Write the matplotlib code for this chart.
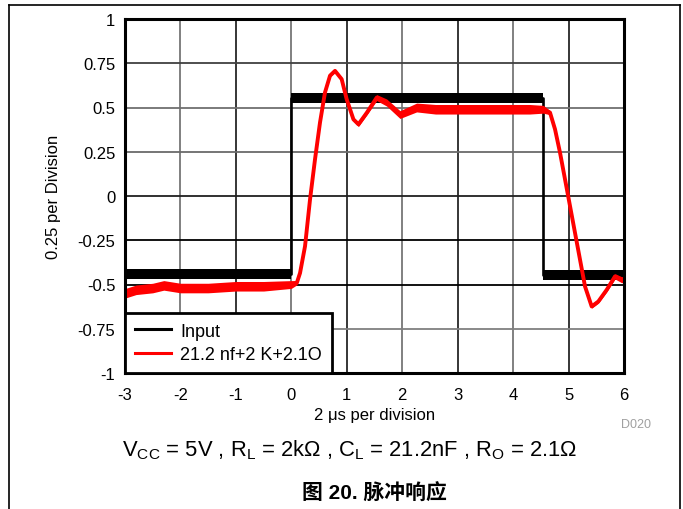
import matplotlib
matplotlib.use("Agg")
import matplotlib.pyplot as plt
from matplotlib.lines import Line2D

plt.rcParams["font.family"] = ["Liberation Sans", "DejaVu Sans"]
plt.rcParams["mathtext.fontset"] = "custom"
plt.rcParams["mathtext.rm"] = "Liberation Sans"
plt.rcParams["mathtext.it"] = "Liberation Sans:italic"
plt.rcParams["axes.unicode_minus"] = False

# Input pulse (time in divisions, amplitude), with noise envelope half-width
input_t = [-3.0, 0.0, 0.0, 4.545, 4.545, 6.0]
input_v = [-0.44, -0.44, 0.555, 0.555, -0.445, -0.445]
input_noise = [0.027, 0.027, 0.027, 0.027, 0.027, 0.027]

# Output with 21.2 nF load, 2 k load and 2.1 ohm isolation
output_t = [-3.0, -2.8, -2.5, -2.3, -2.0, -1.5, -1.0, -0.5, 0.0, 0.1,
            0.157, 0.247, 0.337, 0.427, 0.517, 0.607, 0.698, 0.788, 0.908, 0.998,
            1.12, 1.21, 1.36, 1.54, 1.72, 1.96, 2.26, 2.6, 3.0, 3.5,
            4.0, 4.3, 4.545, 4.666, 4.756, 4.846, 4.937, 5.027, 5.117, 5.207,
            5.297, 5.417, 5.537, 5.688, 5.838, 5.958, 6.0]
output_v = [-0.55, -0.53, -0.52, -0.505, -0.52, -0.52, -0.51, -0.51, -0.50, -0.49,
            -0.435, -0.284, -0.02, 0.207, 0.415, 0.585, 0.68, 0.707, 0.66, 0.547,
            0.433, 0.405, 0.47, 0.556, 0.528, 0.46, 0.50, 0.49, 0.49, 0.49,
            0.49, 0.49, 0.49, 0.471, 0.377, 0.245, 0.093, -0.058, -0.209, -0.36,
            -0.511, -0.624, -0.596, -0.53, -0.454, -0.473, -0.47]
output_noise = [0.027, 0.027, 0.027, 0.027, 0.027, 0.027, 0.027, 0.027, 0.022, 0.012,
                0.006, 0.003, 0.003, 0.003, 0.003, 0.005, 0.008, 0.01, 0.01, 0.008,
                0.01, 0.013, 0.013, 0.017, 0.02, 0.022, 0.025, 0.027, 0.027, 0.027,
                0.027, 0.027, 0.022, 0.012, 0.006, 0.004, 0.004, 0.004, 0.004, 0.004,
                0.006, 0.01, 0.01, 0.012, 0.015, 0.017, 0.017]

series_names = ["Input", "21.2 nf+2 K+2.1O"]
x_ticks = [-3, -2, -1, 0, 1, 2, 3, 4, 5, 6]
x_tick_labels = ["-3", "-2", "-1", "0", "1", "2", "3", "4", "5", "6"]
y_ticks = [-1, -0.75, -0.5, -0.25, 0, 0.25, 0.5, 0.75, 1]
y_tick_labels = ["-1", "-0.75", "-0.5", "-0.25", "0", "0.25", "0.5", "0.75", "1"]

fig = plt.figure(figsize=(6.83, 5.10), dpi=100)
ax = fig.add_axes([125 / 683, 1 - 374 / 510, 499 / 683, 354 / 510])

# grid: alternating grey / black verticals, mostly dark horizontals
for t in x_ticks[1:-1]:
    if t % 2 == 0:
        ax.axvline(t, color="#808080", lw=1.4, zorder=0)
    else:
        ax.axvline(t, color="black", lw=1.1, zorder=0)
h_colors = {-0.75: "#808080", -0.5: "black", -0.25: "black", 0: "#202020",
            0.25: "#6a6a6a", 0.5: "#707070", 0.75: "#404040"}
for v, c in h_colors.items():
    ax.axhline(v, color=c, lw=1.3, zorder=0)

lo = [v - n for v, n in zip(input_v, input_noise)]
hi = [v + n for v, n in zip(input_v, input_noise)]
ax.fill_between(input_t, lo, hi, color="black", lw=0, zorder=2)
ax.plot(input_t, input_v, color="black", lw=1.9, zorder=2)

lo = [v - n for v, n in zip(output_v, output_noise)]
hi = [v + n for v, n in zip(output_v, output_noise)]
ax.fill_between(output_t, lo, hi, color="#ff0000", lw=0, zorder=3)
ax.plot(output_t, output_v, color="#ff0000", lw=2.8, zorder=3)

ax.set_xlim(-3, 6)
ax.set_ylim(-1, 1)
ax.set_xticks(x_ticks)
ax.set_xticklabels(x_tick_labels)
ax.set_yticks(y_ticks)
ax.set_yticklabels(y_tick_labels)
ax.tick_params(length=0, labelsize=12)
ax.tick_params(axis="x", pad=10)
ax.tick_params(axis="y", pad=7)
for s in ax.spines.values():
    s.set_linewidth(2.2)
    s.set_zorder(5)

ax.set_xlabel("2 μs per division", fontsize=12, labelpad=4)
ax.set_ylabel("0.25 per Division", fontsize=12, labelpad=12)

handles = [Line2D([], [], color="black", lw=2.2),
           Line2D([], [], color="#ff0000", lw=2.2)]
leg = ax.legend(handles, series_names, loc="lower left", fontsize=13,
                borderaxespad=0, fancybox=False, framealpha=1,
                handlelength=2.0, handletextpad=0.5, labelspacing=0.35,
                borderpad=0.55)
leg.get_frame().set_edgecolor("black")
leg.get_frame().set_linewidth(2.0)
leg.set_zorder(6)

fig.text(636 / 683, 1 - 425 / 510, "D020", color="#a0a0a0", fontsize=9,
         ha="center", va="center")
fig.text(350 / 683, 1 - 450 / 510,
         r"V$_\mathrm{CC}$ = 5V , R$_\mathrm{L}$ = 2kΩ , C$_\mathrm{L}$ = 21.2nF , "
         r"R$_\mathrm{O}$ = 2.1Ω",
         fontsize=15.8, ha="center", va="center")
fig.text(374 / 683, 1 - 494 / 510, "图 20. 脉冲响应", fontsize=15,
         fontweight="bold", family=["Liberation Sans", "Noto Sans CJK SC"],
         ha="center", va="center")

# page frame lines
fig.add_artist(Line2D([9 / 683, 680 / 683], [1 - 6 / 510, 1 - 6 / 510],
                      color="black", lw=1.2, transform=fig.transFigure))
fig.add_artist(Line2D([9 / 683, 9 / 683], [0, 1 - 6 / 510],
                      color="black", lw=1.2, transform=fig.transFigure))
fig.add_artist(Line2D([680 / 683, 680 / 683], [0, 1 - 6 / 510],
                      color="black", lw=1.2, transform=fig.transFigure))

fig.savefig("out.png", dpi=100)
